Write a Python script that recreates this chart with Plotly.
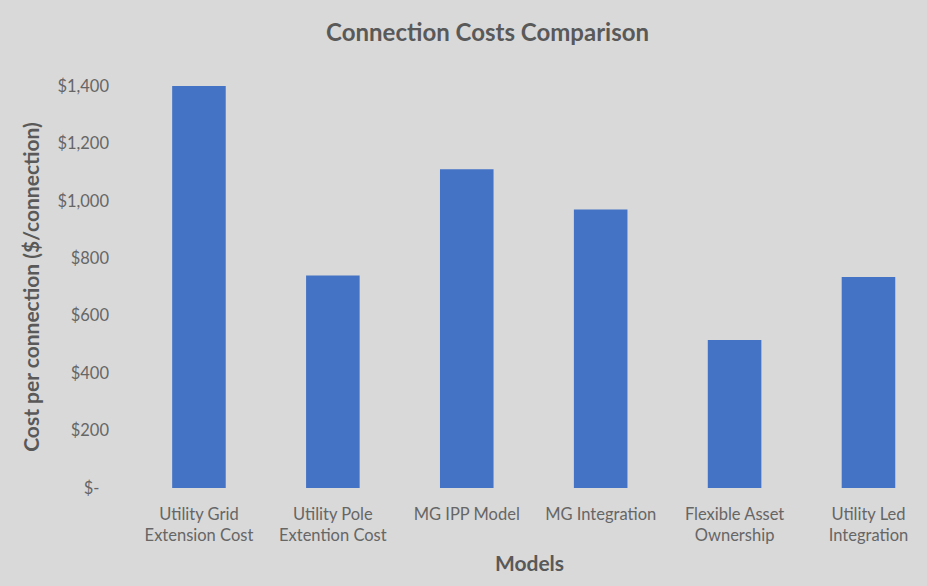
import plotly.graph_objects as go

categories = ["Utility Grid<br>Extension Cost", "Utility Pole<br>Extention Cost", "MG IPP Model",
              "MG Integration", "Flexible Asset<br>Ownership", "Utility Led<br>Integration"]
costs = [1400, 740, 1110, 970, 515, 735]
tick_values = [0, 200, 400, 600, 800, 1000, 1200, 1400]
tick_labels = ["$-\u2007", "$200", "$400", "$600", "$800", "$1,000", "$1,200", "$1,400"]

FONT = "Lato"
GRAY = "#595959"
TICK_GRAY = "#666666"

fig = go.Figure(go.Bar(
    x=list(range(len(categories))),
    y=costs,
    marker=dict(color="#4472C4", line=dict(width=0)),
    width=0.4,
))

fig.update_layout(
    width=927, height=586,
    paper_bgcolor="#d9d9d9", plot_bgcolor="#d9d9d9",
    margin=dict(l=132, r=0, t=86, b=98),
    showlegend=False,
    font=dict(family=FONT, color=GRAY, size=16),
    title=dict(text="<b>Connection Costs Comparison</b>", x=0.526, xanchor="center",
               y=0.945, yanchor="middle", xref="container", yref="container",
               font=dict(family=FONT, size=24, color=GRAY)),
    xaxis=dict(
        tickmode="array", tickvals=list(range(len(categories))), ticktext=categories,
        range=[-0.5, 5.437], showgrid=False, zeroline=False, showline=False,
        tickfont=dict(size=16.5, color=TICK_GRAY), ticklabelstandoff=14,
        title=dict(text="<b>Models</b>", font=dict(size=21, color=GRAY), standoff=12),
    ),
    yaxis=dict(
        tickmode="array", tickvals=tick_values, ticktext=tick_labels,
        range=[0, 1400], showgrid=False, zeroline=False, showline=False,
        tickfont=dict(size=16.5, color=TICK_GRAY), ticklabelstandoff=22,
        title=dict(text="<b>Cost per connection ($/connection)</b>",
                   font=dict(size=21, color=GRAY), standoff=12),
    ),
)

fig.write_html("out.html", config={"displayModeBar": False},
               post_script="document.body.style.margin='0px';")
